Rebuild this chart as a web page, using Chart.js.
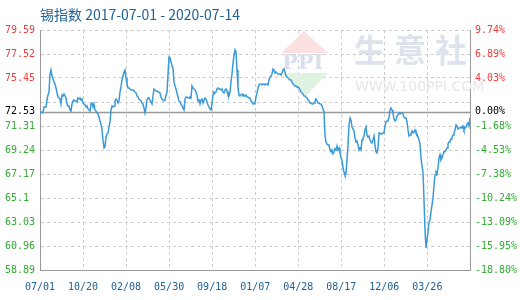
<!DOCTYPE html>
<html>
<head>
<meta charset="utf-8">
<script src="https://cdn.jsdelivr.net/npm/chart.js@4/dist/chart.umd.min.js"></script>
<style>
  body { margin: 0; background: #fff; }
</style>
</head>
<body>
<canvas id="tinChart" width="520" height="300"></canvas>
<script>
const titleText = '锡指数 2017-07-01 - 2020-07-14';
const spanDays = 1109;
const tickStepDays = 111;
const xTickLabels = ['07/01', '10/20', '02/08', '05/30', '09/18', '01/07', '04/28', '08/17', '12/06', '03/26'];
const baseValue = 72.53;
const yTickValues = [58.89, 60.96, 63.03, 65.1, 67.17, 69.24, 71.31, 72.53, 73.38, 75.45, 77.52, 79.59];
const leftTickLabels = ['58.89', '60.96', '63.03', '65.1', '67.17', '69.24', '71.31', '72.53', '', '75.45', '77.52', '79.59'];
const rightTickLabels = ['-18.80%', '-15.95%', '-13.09%', '-10.24%', '-7.38%', '-4.53%', '-1.68%', '0.00%', '', '4.03%', '6.89%', '9.74%'];

// index values, evenly spaced from 2017-07-01 to 2020-07-14
const values = [
  72.53, 72.52, 72.43, 72.52, 72.95, 72.95, 72.95, 73.55, 73.98, 74.24,
  75.79, 76.14, 75.62, 75.37, 75.11, 74.93, 74.59, 74.16, 73.81, 73.73,
  73.64, 73.21, 73.98, 73.90, 74.07, 73.90, 73.73, 73.21, 73.04, 73.04,
  72.69, 72.60, 73.21, 73.47, 73.55, 73.47, 73.47, 73.38, 73.73, 73.64,
  73.73, 73.55, 73.64, 73.29, 73.21, 73.12, 72.95, 73.04, 72.78, 72.69,
  72.60, 73.21, 73.29, 72.95, 73.21, 72.69, 72.60, 72.43, 72.35, 72.09,
  71.74, 71.48, 70.97, 70.10, 69.42, 69.51, 70.36, 70.62, 70.71, 71.22,
  71.66, 72.69, 73.04, 72.95, 73.04, 73.47, 73.64, 73.55, 73.29, 73.47,
  74.24, 74.68, 75.28, 75.62, 75.97, 76.14, 75.45, 74.93, 74.59, 74.59,
  74.50, 74.42, 74.42, 74.42, 74.33, 74.24, 74.16, 73.90, 73.81, 73.64,
  73.55, 73.47, 73.29, 73.21, 72.86, 72.43, 72.86, 73.55, 73.73, 73.73,
  73.55, 73.38, 73.21, 73.90, 74.50, 74.42, 74.33, 74.33, 74.24, 74.24,
  74.16, 73.81, 73.64, 73.55, 73.47, 73.55, 73.98, 74.24, 75.71, 77.26,
  77.18, 76.83, 76.49, 76.31, 75.11, 74.76, 74.50, 74.16, 73.81, 73.47,
  73.38, 73.21, 73.04, 72.86, 72.69, 73.64, 73.81, 73.81, 73.73, 73.73,
  73.81, 73.73, 74.76, 74.59, 74.50, 74.42, 74.24, 73.98, 73.47, 73.55,
  73.21, 73.55, 73.64, 73.29, 73.55, 73.73, 73.64, 73.38, 73.12, 72.95,
  72.78, 72.69, 73.21, 74.07, 74.24, 74.16, 74.24, 74.50, 74.59, 74.50,
  74.50, 74.42, 74.50, 74.24, 74.16, 74.42, 74.50, 74.33, 73.98, 73.90,
  74.24, 75.11, 75.79, 76.74, 77.43, 77.87, 77.69, 76.14, 74.59, 73.98,
  73.90, 73.98, 74.07, 73.90, 73.98, 73.90, 73.98, 73.81, 73.81, 73.73,
  73.73, 73.47, 73.38, 73.21, 73.21, 73.29, 73.81, 74.16, 74.59, 74.85,
  74.93, 74.93, 74.85, 74.93, 74.93, 74.85, 74.93, 74.93, 74.85, 75.28,
  75.54, 75.62, 75.79, 76.23, 76.14, 75.88, 75.97, 75.88, 75.79, 75.79,
  75.79, 75.71, 75.88, 76.14, 76.23, 75.97, 75.62, 75.54, 75.45, 75.37,
  75.28, 75.28, 75.11, 74.93, 74.85, 74.76, 74.76, 74.68, 74.68, 74.59,
  74.42, 74.24, 74.16, 74.07, 73.90, 73.90, 73.81, 73.73, 73.55, 73.47,
  73.29, 73.29, 73.21, 73.21, 73.29, 73.47, 73.64, 73.47, 73.29, 73.29,
  73.21, 73.21, 73.04, 72.78, 72.52, 70.45, 69.93, 69.76, 69.68, 69.68,
  69.25, 69.08, 69.25, 68.91, 69.08, 69.34, 69.25, 69.59, 69.25, 69.42,
  68.99, 68.55, 68.38, 67.69, 67.34, 67.08, 67.17, 68.38, 69.68, 71.40,
  72.00, 71.83, 71.22, 71.05, 70.88, 70.28, 69.93, 70.02, 69.68, 69.25,
  69.42, 69.25, 70.10, 70.28, 70.45, 70.97, 71.22, 70.53, 70.36, 70.45,
  70.10, 69.93, 69.85, 70.10, 70.45, 69.68, 69.08, 68.99, 69.42, 70.71,
  70.71, 70.62, 70.62, 70.71, 70.71, 71.31, 71.66, 71.74, 71.83, 72.00,
  72.69, 72.86, 72.69, 72.43, 71.91, 71.74, 71.83, 72.18, 72.26, 72.43,
  72.35, 72.43, 72.43, 72.35, 72.09, 72.00, 72.00, 71.66, 70.97, 70.45,
  70.53, 70.62, 70.88, 70.71, 70.79, 70.97, 70.71, 70.62, 70.36, 70.10,
  69.76, 68.55, 67.86, 67.34, 64.93, 62.34, 60.79, 61.48, 62.17, 63.03,
  63.21, 63.89, 64.49, 65.10, 66.22, 67.08, 67.34, 67.17, 67.69, 68.55,
  68.82, 68.38, 68.55, 68.82, 69.08, 69.08, 69.25, 69.42, 69.76, 69.93,
  70.02, 70.19, 70.36, 70.53, 70.71, 70.97, 71.40, 71.31, 71.05, 71.14,
  71.14, 71.22, 71.14, 71.31, 70.97, 71.14, 71.22, 71.48, 71.57, 71.31,
  72.00
];

const RED = '#f03c3c';
const GREEN = '#33aa33';
const BLUE_TEXT = '#1f6196';
const GRID = '#cccccc';
const AXIS = '#999999';

function tickColor(ctx) {
  const v = ctx.tick ? ctx.tick.value : baseValue;
  if (Math.abs(v - baseValue) < 1e-6) return '#000';
  return v > baseValue ? RED : GREEN;
}

const monoFont = { family: 'DejaVu Sans Mono', size: 10 };

// faint site watermark + solid base line
const decorations = {
  id: 'decorations',
  beforeDatasetsDraw(chart) {
    const ctx = chart.ctx;
    ctx.save();
    // logo
    ctx.fillStyle = '#fbe1e1';
    ctx.beginPath();
    ctx.moveTo(304, 31); ctx.lineTo(328, 53); ctx.lineTo(281, 53);
    ctx.closePath(); ctx.fill();
    ctx.fillStyle = '#e0f3e0';
    ctx.beginPath();
    ctx.moveTo(283, 73); ctx.lineTo(328, 73); ctx.lineTo(306, 96);
    ctx.closePath(); ctx.fill();
    ctx.fillStyle = '#d9e0ec';
    ctx.font = 'bold 21px "DejaVu Serif"';
    ctx.textBaseline = 'middle';
    ctx.fillText('PPI', 282, 64);
    // site name
    ctx.fillStyle = '#dde3eb';
    ctx.font = 'bold 32px "Noto Sans CJK SC"';
    ctx.fillText('生', 354, 50);
    ctx.fillText('意', 394, 50);
    ctx.fillText('社', 435, 50);
    ctx.fillStyle = '#e6e6e6';
    ctx.font = '14px "DejaVu Sans"';
    ctx.fillText('WWW.100PPI.COM', 355, 87);
    // base line
    const a = chart.chartArea;
    const y = Math.round(chart.scales.y.getPixelForValue(baseValue)) + 0.5;
    ctx.strokeStyle = AXIS;
    ctx.lineWidth = 1.5;
    ctx.beginPath();
    ctx.moveTo(a.left, y); ctx.lineTo(a.right, y);
    ctx.stroke();
    ctx.restore();
  }
};

new Chart(document.getElementById('tinChart'), {
  type: 'line',
  data: {
    datasets: [{
      data: values.map((v, i) => ({ x: i * spanDays / (values.length - 1), y: v })),
      borderColor: '#3a9ad9',
      borderWidth: 1.5,
      pointRadius: 0,
      tension: 0,
      fill: false
    }]
  },
  options: {
    responsive: false,
    animation: false,
    devicePixelRatio: 1,
    layout: { padding: { left: 5, right: 0, top: 0, bottom: 0 } },
    plugins: {
      legend: { display: false },
      tooltip: { enabled: false },
      title: {
        display: true,
        text: titleText,
        align: 'start',
        fullSize: false,
        color: BLUE_TEXT,
        font: { family: 'Noto Sans CJK SC', size: 14, weight: 'normal', lineHeight: 1.2 },
        padding: { top: 6.2, bottom: 7 }
      }
    },
    scales: {
      x: {
        type: 'linear',
        min: 0,
        max: spanDays,
        afterBuildTicks: s => { s.ticks = xTickLabels.map((_, k) => ({ value: k * tickStepDays })); },
        afterFit: s => { s.height = 30; },
        ticks: {
          autoSkip: false,
          maxRotation: 0,
          padding: 11,
          color: BLUE_TEXT,
          font: monoFont,
          callback: (v, i) => xTickLabels[i]
        },
        grid: { color: GRID, drawTicks: false },
        border: { display: true, color: AXIS, width: 1, dash: [3, 3] }
      },
      y: {
        position: 'left',
        min: yTickValues[0],
        max: yTickValues[yTickValues.length - 1],
        afterBuildTicks: s => { s.ticks = yTickValues.map(v => ({ value: v })); },
        afterFit: s => { s.width = 35; },
        ticks: {
          autoSkip: false,
          crossAlign: 'far',
          color: tickColor,
          font: monoFont,
          callback: (v, i) => leftTickLabels[i]
        },
        grid: {
          drawTicks: false,
          color: ctx => (ctx.tick && Math.abs(ctx.tick.value - baseValue) < 1e-6) ? 'rgba(0,0,0,0)' : GRID
        },
        border: { display: true, color: AXIS, width: 1, dash: [3, 3] }
      },
      y1: {
        position: 'right',
        min: yTickValues[0],
        max: yTickValues[yTickValues.length - 1],
        afterBuildTicks: s => { s.ticks = yTickValues.map(v => ({ value: v })); },
        afterFit: s => { s.width = 50; },
        ticks: {
          autoSkip: false,
          padding: 5,
          color: tickColor,
          font: monoFont,
          callback: (v, i) => rightTickLabels[i]
        },
        grid: { drawOnChartArea: false, drawTicks: false },
        border: { display: true, color: AXIS, width: 1 }
      }
    }
  },
  plugins: [decorations]
});
</script>
</body>
</html>
